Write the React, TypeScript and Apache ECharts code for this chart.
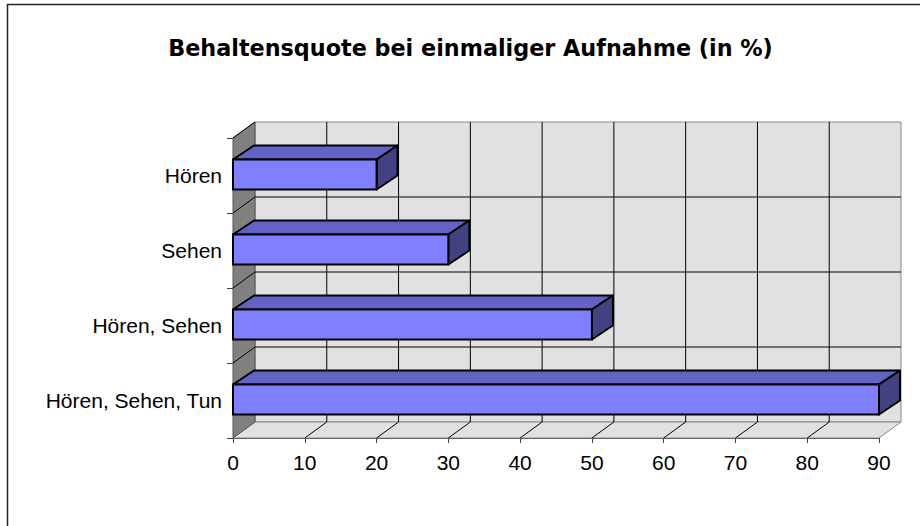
import React, { useEffect, useRef } from 'react';
import * as echarts from 'echarts';

const categories = ['Hören', 'Sehen', 'Hören, Sehen', 'Hören, Sehen, Tun'];
const values = [20, 30, 50, 90];
const xTicks = [0, 10, 20, 30, 40, 50, 60, 70, 80, 90];
const titleText = 'Behaltensquote bei einmaliger Aufnahme (in %)';

const DX = 22;
const DY = -16;
const BDX = 21;
const BDY = -14;

export default function App() {
  const ref = useRef<HTMLDivElement>(null);
  useEffect(() => {
    document.body.style.margin = '0';
    const chart = echarts.init(ref.current!, null, { renderer: 'svg' });
    const font = '"Liberation Sans", Arial, sans-serif';
    chart.setOption({
      animation: false,
      backgroundColor: '#ffffff',
      grid: { left: 233, right: 41, top: 138, bottom: 88 },
      xAxis: {
        type: 'value',
        min: 0,
        max: 90,
        interval: 10,
        axisLine: { show: true, lineStyle: { color: '#404040', width: 1 } },
        axisTick: { show: true, length: 5, lineStyle: { color: '#404040' } },
        axisLabel: { color: '#000', fontSize: 21, fontFamily: font, margin: 14 },
        splitLine: { show: false },
      },
      yAxis: {
        type: 'category',
        inverse: true,
        data: categories,
        axisLine: { show: true, lineStyle: { color: '#404040', width: 1 } },
        axisTick: { show: true, length: 6, lineStyle: { color: '#404040' } },
        axisLabel: { color: '#000', fontSize: 21, fontFamily: font, margin: 11 },
        splitLine: { show: false },
      },
      graphic: [
        {
          type: 'text',
          x: 470.5,
          y: 47.5,
          style: {
            text: titleText,
            fontSize: 22.3,
            fontWeight: 'bold',
            fontFamily: '"DejaVu Sans", sans-serif',
            align: 'center',
            verticalAlign: 'middle',
            fill: '#000',
          },
        },
        {
          type: 'rect',
          silent: true,
          shape: { x: 7.5, y: 4.5, width: 2000, height: 2000 },
          style: { fill: 'rgba(0,0,0,0)', stroke: '#222', lineWidth: 1.5 },
          z: 100,
        },
      ],
      series: [
        {
          type: 'custom',
          z: 1,
          silent: true,
          data: [[0, 0]],
          encode: { x: 0, y: 1 },
          renderItem: (params: any, api: any) => {
            const cs = params.coordSys;
            const x0 = cs.x;
            const x1 = cs.x + cs.width;
            const yT = cs.y;
            const yB = cs.y + cs.height;
            const band = api.size([0, 1])[1];
            const children: any[] = [];
            children.push({
              type: 'polygon',
              shape: { points: [[x0 + DX, yT + DY], [x1 + DX, yT + DY], [x1 + DX, yB + DY], [x0 + DX, yB + DY]] },
              style: { fill: '#E1E1E1', stroke: '#8a8a8a', lineWidth: 1 },
            });
            children.push({
              type: 'polygon',
              shape: { points: [[x0, yB], [x1, yB], [x1 + DX, yB + DY], [x0 + DX, yB + DY]] },
              style: { fill: '#E1E1E1', stroke: '#8a8a8a', lineWidth: 1 },
            });
            children.push({
              type: 'polygon',
              shape: { points: [[x0, yT], [x0 + DX, yT + DY], [x0 + DX, yB + DY], [x0, yB]] },
              style: { fill: '#808080', stroke: '#555', lineWidth: 1 },
            });
            xTicks.forEach((t, k) => {
              const px = api.coord([t, 0])[0];
              if (k === 0 || k === xTicks.length - 1) return;
              children.push({
                type: 'line',
                shape: { x1: px + DX, y1: yT + DY, x2: px + DX, y2: yB + DY },
                style: { stroke: '#000', lineWidth: 1 },
              });
              children.push({
                type: 'line',
                shape: { x1: px, y1: yB, x2: px + DX, y2: yB + DY },
                style: { stroke: '#000', lineWidth: 1 },
              });
            });
            categories.forEach((c, i) => {
              if (i === 0) return;
              const yb = api.coord([0, i])[1] - band / 2;
              children.push({
                type: 'line',
                shape: { x1: x0 + DX, y1: yb + DY, x2: x1 + DX, y2: yb + DY },
                style: { stroke: '#000', lineWidth: 1 },
              });
              children.push({
                type: 'line',
                shape: { x1: x0, y1: yb, x2: x0 + DX, y2: yb + DY },
                style: { stroke: '#000', lineWidth: 1 },
              });
            });
            children.push({
              type: 'line',
              shape: { x1: x0, y1: yT, x2: x0 + DX, y2: yT + DY },
              style: { stroke: '#000', lineWidth: 1 },
            });
            return { type: 'group', children };
          },
        },
        {
          type: 'custom',
          z: 3,
          data: values.map((v, i) => [v, i]),
          encode: { x: 0, y: 1 },
          renderItem: (params: any, api: any) => {
            const v = api.value(0);
            const i = api.value(1);
            const s = api.coord([0, i]);
            const e = api.coord([v, i]);
            const band = api.size([0, 1])[1];
            const h = band * 0.4;
            const y0 = s[1] - h / 2 - 1;
            const xa = s[0];
            const xb = e[0];
            return {
              type: 'group',
              children: [
                {
                  type: 'polygon',
                  shape: { points: [[xa, y0], [xb, y0], [xb + BDX, y0 + BDY], [xa + BDX, y0 + BDY]] },
                  style: { fill: '#6363C5', stroke: '#000', lineWidth: 2, lineJoin: 'round' },
                },
                {
                  type: 'polygon',
                  shape: { points: [[xb, y0], [xb + BDX, y0 + BDY], [xb + BDX, y0 + h + BDY], [xb, y0 + h]] },
                  style: { fill: '#424282', stroke: '#000', lineWidth: 2, lineJoin: 'round' },
                },
                {
                  type: 'rect',
                  shape: { x: xa, y: y0, width: xb - xa, height: h },
                  style: { fill: '#8080FF', stroke: '#000', lineWidth: 2 },
                },
              ],
            };
          },
        },
      ],
    });
    return () => chart.dispose();
  }, []);
  return <div ref={ref} style={{ width: 920, height: 526 }} />;
}
